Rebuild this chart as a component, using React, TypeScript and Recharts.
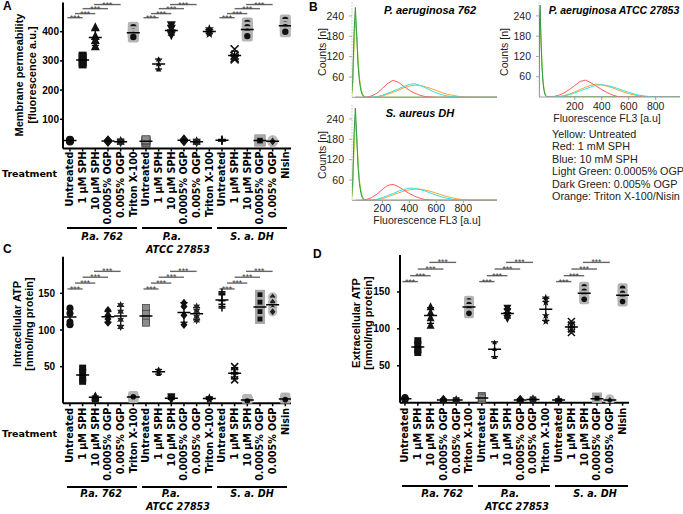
import React from 'react';
import { ScatterChart, Scatter, XAxis, YAxis, ErrorBar, ReferenceLine, LineChart, Line } from 'recharts';

const SANS = '"Liberation Sans", Arial, Helvetica, sans-serif';
const DJV = '"DejaVu Sans", sans-serif';

// ---------- categories ----------
const paTreatments = ['Untreated', '1 µM SPH', '10 µM SPH', '0.0005% OGP', '0.005% OGP', 'Triton X-100'];
const saTreatments = ['Untreated', '1 µM SPH', '10 µM SPH', '0.0005% OGP', '0.005% OGP', 'Nisin'];
const categoryLabels = [...paTreatments, ...paTreatments, ...saTreatments];
const categoryTicks = categoryLabels.map((_, i) => i);

// ---------- Panel A: membrane permeability (fluorescence a.u.) ----------
const permPa762 = [[24, 28, 30, 26], [318, 312, 295, 288], [415, 385, 372, 350], [24, 27, 29, 22], [22, 25, 27, 20], [415, 400, 390, 382]];
const permPaAtcc = [[18, 22, 28, 30], [306, 290, 272], [422, 410, 395, 388], [26, 30, 32, 24], [20, 24, 26, 22], [410, 403, 398, 392]];
const permSaDh = [[26, 29, 31, 28], [340, 318, 310, 305], [430, 415, 400, 385], [25, 28, 30, 27], [22, 26, 28, 24], [440, 425, 415, 400]];
const ticksA = [100, 200, 300, 400];
const bracketsA = [448, 462, 479, 493];

// ---------- Panel C: intracellular ATP ----------
const intraPa762 = [[130, 123, 111, 107], [48, 42, 35, 30], [10, 8, 6, 9], [127, 120, 115, 110], [134, 125, 114, 104], [10, 8, 7, 9]];
const intraPaAtcc = [[130, 122, 115, 110], [47, 44, 41, 40], [9, 6, 5, 8], [137, 132, 120, 107], [132, 126, 118, 113], [8, 6, 5, 7]];
const intraSaDh = [[152, 148, 140, 135, 130], [50, 44, 38, 32], [5, 4, 6, 3], [148, 138, 125, 115], [145, 138, 130, 125], [6, 4, 8, 5]];
const ticksC = [50, 100, 150];
const bracketsC = [156, 164, 172, 180];

// ---------- Panel D: extracellular ATP ----------
const extraPa762 = [[7, 5, 4, 6], [84, 78, 72, 68], [130, 122, 115, 105], [4, 3, 5, 2], [4, 3, 5, 2], [138, 133, 127, 121]];
const extraPaAtcc = [[9, 6, 4, 7], [82, 73, 62], [128, 123, 118, 114], [4, 3, 5, 2], [5, 3, 6, 4], [142, 136, 118, 110]];
const extraSaDh = [[4, 3, 5, 2], [110, 105, 100, 95], [157, 151, 145, 140], [7, 5, 4, 6], [4, 2, 5, 3], [155, 148, 142, 137]];
const ticksD = [50, 100, 150];
const bracketsD = [164, 172, 181, 190];

// significance brackets (category index spans within each strain group)
const bracketSpans = [[-0.2, 1], [0.4, 2], [1, 3], [1.9, 4]];
const groupStarts = [0, 6, 12];

// ---------- Panel B: flow cytometry histograms ----------
const lowXL = [-30, -20, -10, 0, 10, 20, 30, 40, 50, 60, 70, 80, 1050];
const highXL = [0, 40, 80, 120, 160, 200, 240, 280, 320, 360, 400, 440, 480, 520, 560, 600, 640, 680, 720, 760, 800, 840, 880, 920, 960, 1000, 1050];
const yel762 = [0, 30, 140, 225, 185, 110, 60, 30, 13, 5, 2, 0, 0];
const lgr762 = [0, 40, 170, 250, 190, 105, 55, 27, 12, 5, 1, 0, 0];
const dgr762 = [0, 50, 190, 265, 180, 95, 48, 22, 9, 3, 1, 0, 0];
const red762 = [0, 0, 0, 4, 12, 26, 41, 50, 44, 32, 21, 12, 6, 2, 1, 0, 0, 0, 0, 0, 0, 0, 0, 0, 0, 0, 0];
const blue762 = [0, 0, 0, 0, 2, 6, 12, 18, 25, 32, 38, 40, 35, 28, 20, 13, 8, 4, 2, 1, 0, 0, 0, 0, 0, 0, 0];
const orange762 = [0, 0, 0, 0, 1, 4, 9, 15, 21, 28, 33, 36, 35, 31, 26, 20, 14, 9, 6, 3, 1, 0, 0, 0, 0, 0, 0];

const yelSa = [0, 30, 145, 232, 190, 112, 62, 31, 14, 5, 2, 0, 0];
const lgrSa = [0, 40, 170, 252, 195, 108, 57, 28, 12, 5, 1, 0, 0];
const dgrSa = [0, 55, 195, 272, 185, 98, 50, 23, 9, 3, 1, 0, 0];
const redSa = [0, 0, 2, 8, 18, 32, 44, 47, 40, 30, 20, 12, 6, 2, 1, 0, 0, 0, 0, 0, 0, 0, 0, 0, 0, 0, 0];
const blueSa = [0, 0, 0, 1, 3, 8, 14, 20, 27, 32, 36, 35, 32, 27, 21, 15, 10, 6, 3, 1, 0, 0, 0, 0, 0, 0, 0];
const orangeSa = [0, 0, 0, 0, 2, 5, 10, 16, 22, 27, 31, 33, 33, 30, 26, 21, 16, 11, 7, 4, 2, 1, 0, 0, 0, 0, 0];

const lowXR = [-65, -61, -57, -50, -43, -36, -29, -22, -15, -8, 0, 980];
const highXR = [0, 40, 80, 120, 160, 200, 240, 280, 320, 360, 400, 440, 480, 520, 560, 600, 640, 680, 720, 760, 800, 840, 880, 920, 960];
const yelAtcc = [0, 180, 238, 160, 95, 52, 27, 12, 5, 1, 0, 0];
const lgrAtcc = [0, 205, 258, 170, 98, 53, 27, 12, 5, 1, 0, 0];
const dgrAtcc = [0, 235, 272, 165, 90, 47, 22, 9, 3, 1, 0, 0];
const redAtcc = [0, 1, 5, 12, 22, 34, 46, 50, 42, 32, 22, 13, 6, 1, 0, 0, 0, 0, 0, 0, 0, 0, 0, 0, 0];
const blueAtcc = [0, 0, 1, 3, 7, 12, 18, 24, 30, 35, 36, 34, 30, 25, 19, 14, 9, 5, 3, 1, 0, 0, 0, 0, 0];
const orangeAtcc = [0, 0, 1, 4, 9, 15, 22, 29, 35, 38, 36, 32, 27, 21, 15, 10, 6, 3, 1, 0, 0, 0, 0, 0, 0];

const histTicksY = [60, 120, 180, 240];
const histTicksX = [200, 400, 600, 800];
const legendLines = ['Yellow: Untreated', 'Red: 1 mM SPH', 'Blue: 10 mM SPH', 'Light Green: 0.0005% OGP', 'Dark Green: 0.005% OGP', 'Orange: Triton X-100/Nisin'];

// ---------- styles ----------
const COL = { yellow: '#e2da2c', lgreen: '#9be05c', dgreen: '#2e9a4b', red: '#ff5a5a', blue: '#30e0e0', orange: '#f5a431' };
const markerKinds = ['circle', 'square', 'tri', 'diamond', 'star6', 'haloCircle', 'graySquare', 'triSmall', 'triDown', 'diamond', 'star6', 'star5', 'plus', 'cross', 'haloCircle', 'haloSquare', 'haloDiamond', 'haloCircle'];

const zip = (xs: number[], ys: number[]) => xs.map((x, i) => ({ x, y: ys[i] }));

function starPts(cx: number, cy: number, ro: number, ri: number, n: number) {
  const pts: string[] = [];
  for (let i = 0; i < n * 2; i++) {
    const r = i % 2 === 0 ? ro : ri;
    const a = -Math.PI / 2 + (i * Math.PI) / n;
    pts.push(`${cx + r * Math.cos(a)},${cy + r * Math.sin(a)}`);
  }
  return pts.join(' ');
}

function renderMarker(kind: string, cx: number, cy: number, s: number) {
  const h = s / 2;
  const k = '#111';
  switch (kind) {
    case 'circle':
      return <circle cx={cx} cy={cy} r={h} fill={k} />;
    case 'square':
      return <rect x={cx - h} y={cy - h} width={s} height={s} fill={k} />;
    case 'tri':
      return <polygon points={`${cx},${cy - h - 1} ${cx + h + 0.5},${cy + h} ${cx - h - 0.5},${cy + h}`} fill={k} />;
    case 'triSmall':
      return <polygon points={`${cx},${cy - h * 0.7} ${cx + h * 0.7},${cy + h * 0.6} ${cx - h * 0.7},${cy + h * 0.6}`} fill={k} />;
    case 'triDown':
      return <polygon points={`${cx},${cy + h + 1} ${cx + h + 0.5},${cy - h} ${cx - h - 0.5},${cy - h}`} fill={k} />;
    case 'diamond':
      return <polygon points={`${cx},${cy - h * 1.2} ${cx + h},${cy} ${cx},${cy + h * 1.2} ${cx - h},${cy}`} fill={k} />;
    case 'star6':
      return <polygon points={starPts(cx, cy, h * 1.15, h * 0.6, 6)} fill="#222" />;
    case 'star5':
      return <polygon points={starPts(cx, cy, h * 1.2, h * 0.5, 5)} fill={k} />;
    case 'plus':
      return <path d={`M${cx - h},${cy}H${cx + h}M${cx},${cy - h}V${cy + h}`} stroke={k} strokeWidth={1.6} />;
    case 'cross':
      return <path d={`M${cx - h},${cy - h}L${cx + h},${cy + h}M${cx + h},${cy - h}L${cx - h},${cy + h}`} stroke={k} strokeWidth={1.6} />;
    case 'haloCircle':
      return (
        <g>
          <rect x={cx - h - 1.5} y={cy - h - 1.5} width={s + 3} height={s + 3} rx={2} fill="#b5b5b5" />
          <circle cx={cx} cy={cy} r={h * 0.8} fill={k} />
        </g>
      );
    case 'graySquare':
      return <rect x={cx - h} y={cy - h} width={s} height={s} fill="#8c8c8c" stroke="#444" strokeWidth={0.8} />;
    case 'haloSquare':
      return (
        <g>
          <rect x={cx - h - 1.5} y={cy - h - 1.5} width={s + 3} height={s + 3} fill="#a8a8a8" />
          <rect x={cx - h * 0.7} y={cy - h * 0.7} width={s * 0.7} height={s * 0.7} fill={k} />
        </g>
      );
    case 'haloDiamond':
      return (
        <g>
          <circle cx={cx} cy={cy} r={h + 1.2} fill="#bdbdbd" />
          <polygon points={`${cx},${cy - h} ${cx + h * 0.8},${cy} ${cx},${cy + h} ${cx - h * 0.8},${cy}`} fill="#222" />
        </g>
      );
    default:
      return <circle cx={cx} cy={cy} r={h} fill={k} />;
  }
}

function CatTick(props: any) {
  const { x, y, payload } = props;
  return (
    <text
      x={x}
      y={y}
      transform={`rotate(-90 ${x} ${y})`}
      textAnchor="end"
      dy="0.36em"
      fontSize={9.6}
      fontWeight="bold"
      fontFamily={DJV}
      fill="#000"
    >
      {categoryLabels[payload.value]}
    </text>
  );
}

type PanelProps = {
  left: number;
  top: number;
  width: number;
  height: number;
  margin: { top: number; right: number; bottom: number; left: number };
  groups: number[][][];
  yDomain: number[];
  yTicks: number[];
  xDomain: number[];
  brackets: number[];
  markerSize: number;
  tickMarginY: number;
  tickMarginX: number;
};

function ScatterPanel(p: PanelProps) {
  const cats = [...p.groups[0], ...p.groups[1], ...p.groups[2]];
  const points = cats.flatMap((vals, i) => vals.map((v) => ({ x: i, y: v })));
  const stats = cats.map((vals, i) => {
    const m = vals.reduce((a, b) => a + b, 0) / vals.length;
    const sd = Math.sqrt(vals.reduce((a, b) => a + (b - m) * (b - m), 0) / (vals.length - 1));
    return { x: i, y: m, sd };
  });
  return (
    <div style={{ position: 'absolute', left: p.left, top: p.top }}>
      <ScatterChart width={p.width} height={p.height} margin={p.margin} style={{ overflow: 'visible' }}>
        <XAxis
          type="number"
          dataKey="x"
          domain={p.xDomain}
          ticks={categoryTicks}
          interval={0}
          allowDataOverflow
          height={80}
          tickSize={3}
          tickMargin={p.tickMarginX}
          axisLine={{ stroke: '#000', strokeWidth: 2 }}
          tickLine={{ stroke: '#000', strokeWidth: 1.5 }}
          tick={(tp: any) => <CatTick {...tp} />}
        />
        <YAxis
          type="number"
          dataKey="y"
          domain={p.yDomain}
          ticks={p.yTicks}
          allowDataOverflow
          width={63}
          tickSize={3}
          tickMargin={p.tickMarginY}
          axisLine={{ stroke: '#000', strokeWidth: 2 }}
          tickLine={{ stroke: '#000', strokeWidth: 1.5 }}
          tick={{ fontSize: 10, fontWeight: 'bold', fill: '#000', fontFamily: SANS }}
        />
        {groupStarts.flatMap((g) =>
          bracketSpans.map((s, k) => (
            <ReferenceLine
              key={`b${g}-${k}`}
              segment={[
                { x: g + s[0], y: p.brackets[k] },
                { x: g + s[1], y: p.brackets[k] },
              ]}
              stroke="#666"
              strokeWidth={1.4}
              ifOverflow="visible"
              label={{ value: '***', position: 'top', offset: -3, fontSize: 8.5, fill: '#444', fontFamily: SANS }}
            />
          ))
        )}
        <Scatter
          data={points}
          isAnimationActive={false}
          shape={(sp: any) => (sp.cx == null ? <g /> : renderMarker(markerKinds[sp.payload.x], sp.cx, sp.cy, p.markerSize))}
        />
        <Scatter
          data={stats}
          isAnimationActive={false}
          shape={(sp: any) =>
            sp.cx == null ? <g /> : <line x1={sp.cx - 6.5} x2={sp.cx + 6.5} y1={sp.cy} y2={sp.cy} stroke="#000" strokeWidth={1.5} />
          }
        >
          <ErrorBar dataKey="sd" direction="y" width={3.5} stroke="#000" strokeWidth={1.3} isAnimationActive={false} />
        </Scatter>
      </ScatterChart>
    </div>
  );
}

type Curve = { data: { x: number; y: number }[]; color: string };

function HistPanel(props: {
  left: number;
  top: number;
  width: number;
  height: number;
  marginTop: number;
  xDomain: number[];
  xAxisHeight: number;
  showTicks: boolean;
  tickMarginX: number;
  curves: Curve[];
}) {
  return (
    <div style={{ position: 'absolute', left: props.left, top: props.top }}>
      <LineChart width={props.width} height={props.height} margin={{ top: props.marginTop, right: 3, bottom: 0, left: 0 }}>
        <XAxis
          type="number"
          dataKey="x"
          domain={props.xDomain}
          allowDataOverflow
          ticks={histTicksX}
          height={props.xAxisHeight}
          tickSize={props.showTicks ? 3 : 0}
          tickMargin={props.tickMarginX}
          axisLine={{ stroke: '#9a9a9a' }}
          tickLine={{ stroke: '#9a9a9a' }}
          tick={props.showTicks ? { fontSize: 10.5, fill: '#222', fontFamily: SANS } : false}
        />
        <YAxis
          type="number"
          domain={[0, 280]}
          allowDataOverflow
          ticks={histTicksY}
          width={52}
          tickSize={3}
          tickMargin={5}
          axisLine={{ stroke: '#aaa', strokeDasharray: '1 2' }}
          tickLine={{ stroke: '#aaa' }}
          tick={{ fontSize: 10.5, fill: '#222', fontFamily: SANS }}
        />
        {props.curves.map((c, i) => (
          <Line
            key={i}
            data={c.data}
            dataKey="y"
            type="linear"
            stroke={c.color}
            strokeWidth={1}
            dot={false}
            isAnimationActive={false}
          />
        ))}
      </LineChart>
    </div>
  );
}

const bold = { fontFamily: SANS, fontWeight: 'bold' as const, fill: '#000' };

export default function App() {
  const curves762: Curve[] = [
    { data: zip(lowXL, yel762), color: COL.yellow },
    { data: zip(lowXL, lgr762), color: COL.lgreen },
    { data: zip(lowXL, dgr762), color: COL.dgreen },
    { data: zip(highXL, orange762), color: COL.orange },
    { data: zip(highXL, red762), color: COL.red },
    { data: zip(highXL, blue762), color: COL.blue },
  ];
  const curvesSa: Curve[] = [
    { data: zip(lowXL, yelSa), color: COL.yellow },
    { data: zip(lowXL, lgrSa), color: COL.lgreen },
    { data: zip(lowXL, dgrSa), color: COL.dgreen },
    { data: zip(highXL, orangeSa), color: COL.orange },
    { data: zip(highXL, redSa), color: COL.red },
    { data: zip(highXL, blueSa), color: COL.blue },
  ];
  const curvesAtcc: Curve[] = [
    { data: zip(lowXR, yelAtcc), color: COL.yellow },
    { data: zip(lowXR, lgrAtcc), color: COL.lgreen },
    { data: zip(lowXR, dgrAtcc), color: COL.dgreen },
    { data: zip(highXR, orangeAtcc), color: COL.orange },
    { data: zip(highXR, redAtcc), color: COL.red },
    { data: zip(highXR, blueAtcc), color: COL.blue },
  ];

  const groupLine = (x1: number, x2: number, y: number, key: string) => (
    <line key={key} x1={x1} x2={x2} y1={y} y2={y} stroke="#000" strokeWidth={2} />
  );
  const gl = { fontFamily: DJV, fontWeight: 'bold' as const, fontStyle: 'italic' as const, fontSize: 9.6, fill: '#000', textAnchor: 'middle' as const };

  return (
    <div style={{ position: 'absolute', left: 0, top: 0, width: 683, height: 514, background: '#fff', overflow: 'hidden' }}>
      <ScatterPanel
        left={0}
        top={0}
        width={300}
        height={229}
        margin={{ top: 2.5, right: 9, bottom: 0.5, left: 0 }}
        groups={[permPa762, permPaAtcc, permSaDh]}
        yDomain={[0, 500]}
        yTicks={ticksA}
        xDomain={[-0.55, 17.45]}
        brackets={bracketsA}
        markerSize={8}
        tickMarginY={1}
        tickMarginX={0}
      />
      <ScatterPanel
        left={0}
        top={254}
        width={300}
        height={230}
        margin={{ top: 2.7, right: 9, bottom: 0.7, left: 0 }}
        groups={[intraPa762, intraPaAtcc, intraSaDh]}
        yDomain={[0, 200]}
        yTicks={ticksC}
        xDomain={[-0.55, 17.45]}
        brackets={bracketsC}
        markerSize={7}
        tickMarginY={5}
        tickMarginX={1.5}
      />
      <ScatterPanel
        left={337}
        top={252}
        width={297}
        height={231}
        margin={{ top: 3, right: 5, bottom: 0.3, left: 0 }}
        groups={[extraPa762, extraPaAtcc, extraSaDh]}
        yDomain={[0, 200]}
        yTicks={ticksD}
        xDomain={[-0.39, 17.5]}
        brackets={bracketsD}
        markerSize={7}
        tickMarginY={7}
        tickMarginX={2}
      />
      <HistPanel left={300} top={0} width={200} height={100} marginTop={2.4} xDomain={[-25, 1050]} xAxisHeight={2.7} showTicks={false} tickMarginX={0} curves={curves762} />
      <HistPanel left={300} top={100} width={200} height={125} marginTop={5.4} xDomain={[-25, 1050]} xAxisHeight={24.7} showTicks={true} tickMarginX={1} curves={curvesSa} />
      <HistPanel left={487} top={0} width={196} height={125} marginTop={2.4} xDomain={[-65, 980]} xAxisHeight={28} showTicks={true} tickMarginX={3} curves={curvesAtcc} />

      <svg width={683} height={514} style={{ position: 'absolute', left: 0, top: 0, pointerEvents: 'none' }}>
        {/* panel letters */}
        <text x={3} y={10} fontSize={12} {...bold}>A</text>
        <text x={309} y={11} fontSize={12} {...bold}>B</text>
        <text x={3} y={253} fontSize={12} {...bold}>C</text>
        <text x={313} y={258} fontSize={12} {...bold}>D</text>

        {/* Panel A annotations */}
        <text transform="translate(23,75) rotate(-90)" textAnchor="middle" fontSize={11} {...bold}>Membrane permeability</text>
        <text transform="translate(36,75) rotate(-90)" textAnchor="middle" fontSize={11} {...bold}>[fluorescence a.u.]</text>
        <text x={2} y={177} fontSize={9.5} fontFamily={DJV} fontWeight="bold" fill="#000">Treatment</text>
        {groupLine(67, 137, 228, 'a1')}
        {groupLine(142, 212, 228, 'a2')}
        {groupLine(217, 287, 228, 'a3')}
        <text x={102} y={240} {...gl}>P.a. 762</text>
        <text x={172} y={240} {...gl}>P.a.</text>
        <text x={178} y={253} {...gl}>ATCC 27853</text>
        <text x={252} y={240} {...gl}>S. a. DH</text>

        {/* Panel C annotations */}
        <text transform="translate(21,324) rotate(-90)" textAnchor="middle" fontSize={11} {...bold}>Intracellular ATP</text>
        <text transform="translate(33,324) rotate(-90)" textAnchor="middle" fontSize={11} {...bold}>[nmol/mg protein]</text>
        <text x={2} y={437} fontSize={9.5} fontFamily={DJV} fontWeight="bold" fill="#000">Treatment</text>
        {groupLine(67, 137, 487, 'c1')}
        {groupLine(142, 212, 487, 'c2')}
        {groupLine(217, 287, 487, 'c3')}
        <text x={101} y={497} {...gl}>P.a. 762</text>
        <text x={171} y={497} {...gl}>P.a.</text>
        <text x={178} y={510} {...gl}>ATCC 27853</text>
        <text x={252} y={497} {...gl}>S. a. DH</text>

        {/* Panel D annotations */}
        <text transform="translate(360,323) rotate(-90)" textAnchor="middle" fontSize={11} {...bold}>Extracellular ATP</text>
        <text transform="translate(372,323) rotate(-90)" textAnchor="middle" fontSize={11} {...bold}>[nmol/mg protein]</text>
        {groupLine(402, 473, 486, 'd1')}
        {groupLine(478, 550, 486, 'd2')}
        {groupLine(555, 628, 486, 'd3')}
        <text x={442} y={497} {...gl}>P.a. 762</text>
        <text x={510} y={497} {...gl}>P.a.</text>
        <text x={517} y={510} {...gl}>ATCC 27853</text>
        <text x={595} y={497} {...gl}>S. a. DH</text>

        {/* Panel B annotations */}
        <text x={430} y={14} textAnchor="middle" fontSize={11} fontStyle="italic" {...bold}>P. aeruginosa 762</text>
        <text x={614} y={14} textAnchor="middle" fontSize={10.5} fontStyle="italic" {...bold}>P. aeruginosa ATCC 27853</text>
        <text x={420} y={117} textAnchor="middle" fontSize={11} fontStyle="italic" {...bold}>S. aureus DH</text>
        <text transform="translate(326,52) rotate(-90)" textAnchor="middle" fontSize={10.5} fontFamily={SANS} fill="#222">Counts [n]</text>
        <text transform="translate(326,155) rotate(-90)" textAnchor="middle" fontSize={10.5} fontFamily={SANS} fill="#222">Counts [n]</text>
        <text transform="translate(508,52) rotate(-90)" textAnchor="middle" fontSize={10.5} fontFamily={SANS} fill="#222">Counts [n]</text>
        <text x={427} y={224} textAnchor="middle" fontSize={10.5} fontFamily={SANS} fill="#222">Fluorescence FL3 [a.u]</text>
        <text x={607} y={122} textAnchor="middle" fontSize={10.5} fontFamily={SANS} fill="#222">Fluorescence FL3 [a.u]</text>
        {legendLines.map((t, i) => (
          <text key={t} x={552} y={137.5 + i * 12.5} fontSize={10.8} fontFamily={SANS} fill="#222">
            {t}
          </text>
        ))}
      </svg>
    </div>
  );
}
